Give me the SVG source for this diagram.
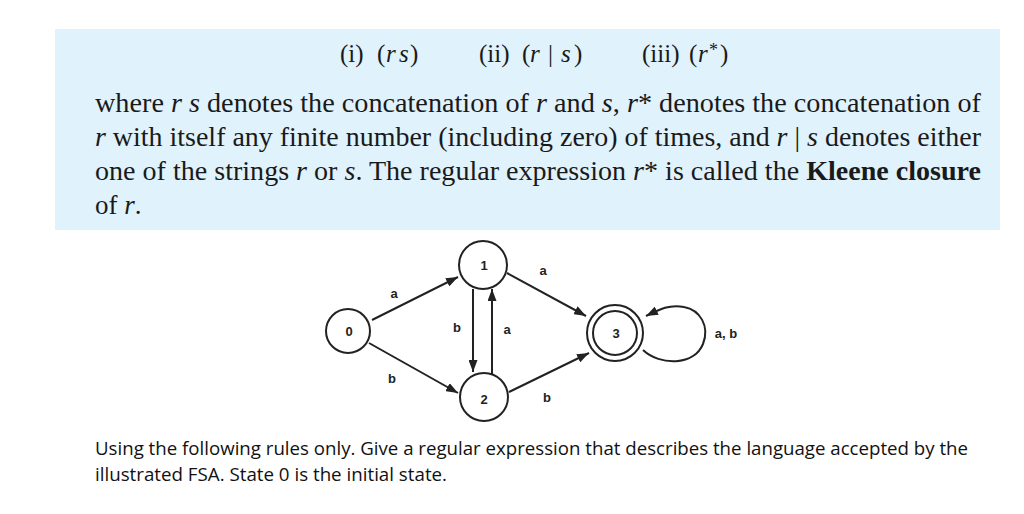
<svg xmlns="http://www.w3.org/2000/svg" width="1024" height="514" viewBox="0 0 1024 514">
<style>
.serif{font-family:"Liberation Serif","Times New Roman",serif;font-size:27px;fill:#1a1a1a}
.hd{font-family:"Liberation Serif","Times New Roman",serif;font-size:25px;fill:#1a1a1a}
.i{font-style:italic}
.b{font-weight:bold}
.node circle{fill:#fff;stroke:#222;stroke-width:2}
.nl{font-family:"Liberation Sans",Arial,sans-serif;font-weight:bold;font-size:13px;fill:#222;text-anchor:middle}
.edge{fill:none;stroke:#222;stroke-width:2;marker-end:url(#ah)}
.foot{font-family:"Open Sans","Liberation Sans",sans-serif;font-size:18px;fill:#111}
</style>
<defs>
<marker id="ah" markerUnits="userSpaceOnUse" markerWidth="12" markerHeight="9" refX="12" refY="4.5" orient="auto">
<path d="M0,0 L12,4.5 L0,9 z" fill="#222"/>
</marker>
</defs>
<rect x="0" y="0" width="1024" height="514" fill="#fff"/>
<rect x="55" y="29" width="945" height="201" fill="#e0f2fc"/>
<g id="header" class="hd">
<text x="340" y="62">(i)</text>
<text x="377" y="62">(</text>
<text x="386" y="62" class="i">r</text>
<text x="399" y="62" class="i">s</text>
<text x="410" y="62">)</text>
<text x="479" y="62">(ii)</text>
<text x="522" y="62">(</text>
<text x="530" y="62" class="i">r</text>
<text x="548" y="62">|</text>
<text x="561" y="62" class="i">s</text>
<text x="574" y="62">)</text>
<text x="642" y="62">(iii)</text>
<text x="689" y="62">(</text>
<text x="698" y="62" class="i">r</text>
<text x="709" y="56" font-size="18">*</text>
<text x="720" y="62">)</text>
</g>
<g id="body" class="serif">
<text x="95" y="112" textLength="886" lengthAdjust="spacingAndGlyphs">where <tspan class="i">r s</tspan> denotes the concatenation of <tspan class="i">r</tspan> and <tspan class="i">s</tspan>, <tspan class="i">r</tspan>* denotes the concatenation of</text>
<text x="95" y="146" textLength="886" lengthAdjust="spacingAndGlyphs"><tspan class="i">r</tspan> with itself any finite number (including zero) of times, and <tspan class="i">r</tspan> | <tspan class="i">s</tspan> denotes either</text>
<text x="95" y="180" textLength="886" lengthAdjust="spacingAndGlyphs">one of the strings <tspan class="i">r</tspan> or <tspan class="i">s</tspan>. The regular expression <tspan class="i">r</tspan>* is called the <tspan class="b">Kleene closure</tspan></text>
<text x="95" y="214">of <tspan class="i">r</tspan>.</text>
</g>
<g id="connectors">
<path class="edge" d="M372,320 L458,277"/>
<path class="edge" d="M369,343 L458,393"/>
<path class="edge" d="M473,289 L473,372"/>
<path class="edge" d="M492,375 L492,289"/>
<path class="edge" d="M507,273 L586,316"/>
<path class="edge" d="M509,392 L589,353"/>
<path class="edge" d="M643,350 C660,366 694,366 703,344 C710,326 700,310 684,307 C670,304 660,309 646,316"/>
<text class="nl" x="394" y="298">a</text>
<text class="nl" x="392" y="383">b</text>
<text class="nl" x="457" y="332">b</text>
<text class="nl" x="507" y="334">a</text>
<text class="nl" x="543" y="275">a</text>
<text class="nl" x="547" y="402">b</text>
<text class="nl" x="726" y="338">a, b</text>
</g>
<g id="node0" class="node"><circle cx="348" cy="331" r="22"/><text class="nl" x="349" y="336">0</text></g>
<g id="node1" class="node"><circle cx="483" cy="265" r="24"/><text class="nl" x="484" y="270">1</text></g>
<g id="node2" class="node"><circle cx="484" cy="397" r="24"/><text class="nl" x="484" y="404">2</text></g>
<g id="node3" class="node"><circle cx="615" cy="333" r="28"/><circle cx="615" cy="333" r="22"/><text class="nl" x="616" y="338">3</text></g>
<g id="footer">
<text class="foot" x="95" y="455" textLength="873" lengthAdjust="spacingAndGlyphs">Using the following rules only. Give a regular expression that describes the language accepted by the</text>
<text class="foot" x="95" y="481" textLength="352" lengthAdjust="spacingAndGlyphs">illustrated FSA. State 0 is the initial state.</text>
</g>
</svg>
